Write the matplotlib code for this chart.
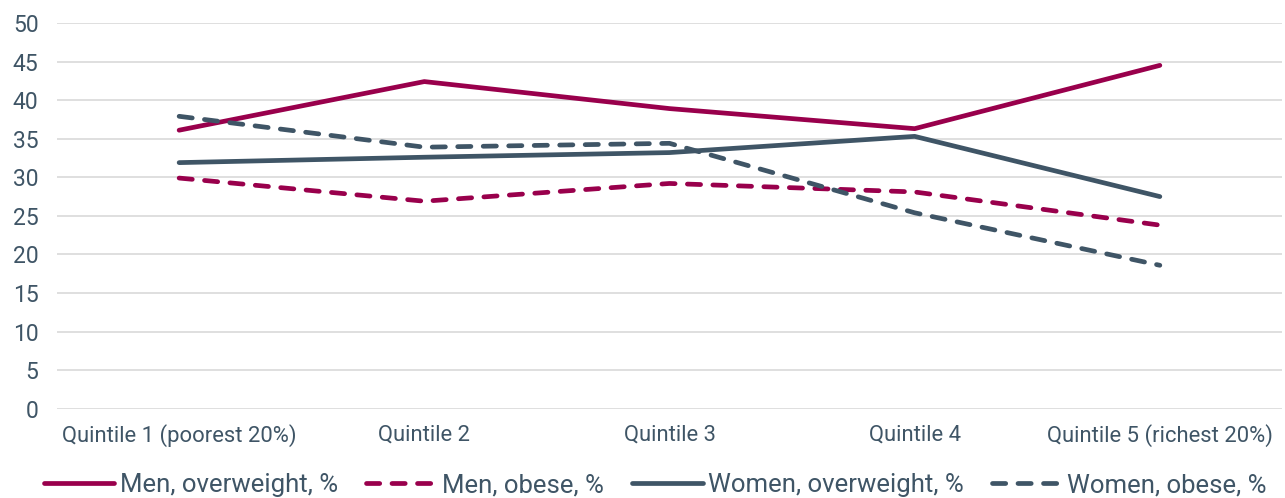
import matplotlib
matplotlib.use("Agg")
import matplotlib.pyplot as plt

categories = ["Quintile 1 (poorest 20%)", "Quintile 2", "Quintile 3", "Quintile 4", "Quintile 5 (richest 20%)"]
men_overweight = [36.1, 42.4, 38.9, 36.3, 44.5]
men_obese = [29.9, 26.9, 29.2, 28.1, 23.8]
women_overweight = [31.9, 32.6, 33.2, 35.3, 27.5]
women_obese = [37.9, 33.9, 34.4, 25.4, 18.6]
yticks = list(range(0, 55, 5))

crimson = "#99004C"
slate = "#3F5566"
text_c = "#3F5566"

plt.rcParams['font.family'] = ['Roboto', 'DejaVu Sans']

fig = plt.figure(figsize=(12.85, 4.98), dpi=100)
ax = fig.add_axes([0.044, 0.179, 0.954, 0.775])
x = list(range(len(categories)))
lw = 3.4
dash = (0, (2.8, 2.6))
ax.plot(x, men_overweight, color=crimson, lw=lw, solid_capstyle='round', label="Men, overweight, %")
ax.plot(x, men_obese, color=crimson, lw=lw, ls=dash, dash_capstyle='round', label="Men, obese, %")
ax.plot(x, women_overweight, color=slate, lw=lw, solid_capstyle='round', label="Women, overweight, %")
ax.plot(x, women_obese, color=slate, lw=lw, ls=dash, dash_capstyle='round', label="Women, obese, %")

ax.set_xlim(-0.5, 4.5)
ax.set_ylim(0, 50)
ax.set_yticks(yticks)
ax.set_xticks(x)
ax.set_xticklabels(categories, fontsize=15.8, color=text_c)
ax.tick_params(axis='y', labelsize=16.5, colors=text_c, length=0, pad=13)
ax.tick_params(axis='x', length=0, pad=11, colors=text_c)
ax.grid(axis='y', color='#D9D9D9', lw=1.2)
ax.set_axisbelow(True)
for s in ax.spines.values():
    s.set_visible(False)

leg = fig.legend(loc='lower center', bbox_to_anchor=(0.51, -0.045), ncol=4, frameon=False,
                 fontsize=18.5, handlelength=2.75, handletextpad=0.2, columnspacing=1.1)
for t in leg.get_texts():
    t.set_color(text_c)

fig.savefig("out.png", dpi=100)
